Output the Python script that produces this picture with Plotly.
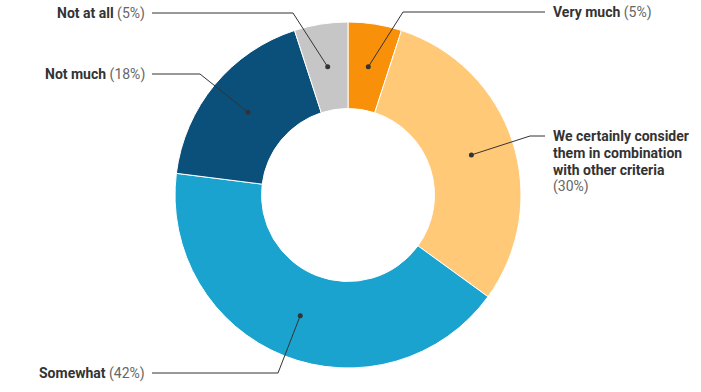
import math
import plotly.graph_objects as go

categories = ["Very much", "We certainly consider them in combination with other criteria",
              "Somewhat", "Not much", "Not at all"]
label_lines = [["Very much"], ["We certainly consider", "them in combination", "with other criteria"],
               ["Somewhat"], ["Not much"], ["Not at all"]]
values = [5, 30, 42, 18, 5]
colors = ["#f8900a", "#ffc978", "#1aa3cf", "#0b507a", "#c6c6c6"]

W, H = 701, 392
CX, CY, R = 348, 195, 173
HOLE = 0.5
LINE_H = 16.8

# label layout: (elbow x, elbow y, line end x, text x, side)
label_layout = [
    (403, 12, 545, 552, "right"),
    (530, 136, 545, 552, "right"),
    (278, 373, 152, 146, "left"),
    (200, 74, 152, 146, "left"),
    (293, 13, 152, 146, "left"),
]

fig = go.Figure()
fig.add_trace(go.Pie(
    labels=categories, values=values, sort=False, direction="clockwise", rotation=0,
    hole=HOLE, marker=dict(colors=colors, line=dict(color="white", width=1)),
    textinfo="none", hoverinfo="label+percent", showlegend=False,
    domain=dict(x=[(CX - R) / W, (CX + R) / W], y=[(H - CY - R) / H, (H - CY + R) / H]),
))
# invisible trace to create the pixel-coordinate axes
fig.add_trace(go.Scatter(x=[0, W], y=[0, H], mode="markers", marker=dict(opacity=0),
                         hoverinfo="skip", showlegend=False))

total = sum(values)
cum = 0
annotations = []
shapes = []
for i, v in enumerate(values):
    mid = (cum + v / 2) / total * 2 * math.pi
    cum += v
    rr = R * (1 + HOLE) / 2
    dx = CX + rr * math.sin(mid)
    dy = CY - rr * math.cos(mid)
    ex, ey, lx, tx, side = label_layout[i]
    shapes.append(dict(type="path", xref="x", yref="y", layer="above",
                       path=f"M {dx},{dy} L {ex},{ey} L {lx},{ey}",
                       line=dict(color="#333333", width=1)))
    shapes.append(dict(type="circle", xref="x", yref="y", layer="above",
                       x0=dx - 2.5, x1=dx + 2.5, y0=dy - 2.5, y1=dy + 2.5,
                       fillcolor="#333333", line=dict(width=0)))
    pct = f"<span style='color:#666666;font-weight:normal'>({round(v / total * 100)}%)</span>"
    lines = label_lines[i]
    if len(lines) == 1:
        text = f"<b>{lines[0]}</b> {pct}"
        annotations.append(dict(x=tx, y=ey, xref="x", yref="y", text=text, showarrow=False,
                                xanchor="left" if side == "right" else "right",
                                yanchor="middle", align="left", borderpad=0))
    else:
        rows = [f"<b>{l}</b>" for l in lines] + [pct]
        for k, row in enumerate(rows):
            annotations.append(dict(x=tx, y=ey + k * LINE_H, xref="x", yref="y", text=row,
                                    showarrow=False, xanchor="left", yanchor="middle",
                                    align="left", borderpad=0))

fig.update_layout(
    width=W, height=H, margin=dict(l=0, r=0, t=0, b=0),
    paper_bgcolor="white", plot_bgcolor="rgba(0,0,0,0)",
    font=dict(family="Roboto", size=14, color="#333333"),
    xaxis=dict(range=[0, W], visible=False, domain=[0, 1], fixedrange=True),
    yaxis=dict(range=[H, 0], visible=False, domain=[0, 1], fixedrange=True),
    annotations=annotations, shapes=shapes,
)
fig.write_html("out.html")
